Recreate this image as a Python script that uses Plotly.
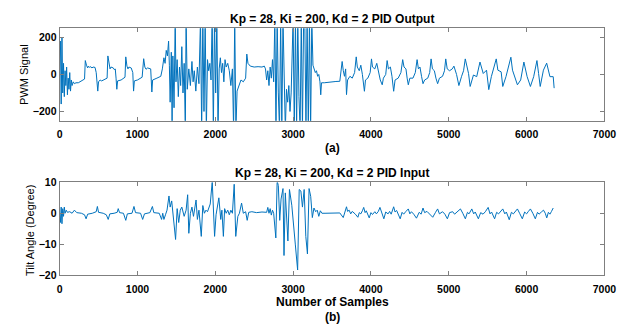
import plotly.graph_objects as go

# ---- PID output (PWM signal), (sample, value) ----
pwm_calm = [(0,150),(10,180),(20,-160),(30,200),(40,-100),(50,60),(60,-120),(70,20),(80,-60),
            (90,40),(100,-110),(110,-20),(120,-80),(130,10),(140,-90),(150,-30),(160,-60),(175,-40),
            (190,-50),(210,-45),(240,-45),(270,-35),(300,-30),(320,-25),(330,75),(345,50),(360,35),
            (370,45),(385,38),(400,42),(415,35),(430,40),(455,38),(470,10),(480,-35),(490,-90),
            (500,-40),(520,-30),(540,-35),(580,-25),(610,-20),(620,100),(635,50),(648,30),(660,40),
            (690,35),(705,25),(715,30),(725,-20),(735,-80),(745,-35),(790,-30),(840,-15),(850,95),
            (865,45),(878,30),(890,40),(920,35),(940,10),(950,-90),(960,-35),(1000,-30),(1060,-15),
            (1080,85),(1095,40),(1110,28),(1130,35),(1170,30),(1185,-95),(1195,-30),(1250,-20),
            (1300,-10),(1320,30),(1340,90),(1355,60),(1370,130),(1385,100),(1400,180)]
pwm_chaos1 = [(1410,50),(1420,-150),(1435,120),(1445,-260),(1455,100),(1470,-180),(1485,300),
              (1495,-40),(1510,80),(1525,-120),(1540,40),(1555,-60),(1570,150),(1585,-100),
              (1600,60),(1615,-300),(1625,300),(1640,-80),(1660,30),(1680,-60),(1700,70),
              (1715,-40),(1730,20),(1750,-90),(1770,40),(1790,-50),(1810,300),(1825,-300),
              (1840,300),(1855,-200),(1870,300),(1885,-300),(1900,80),(1915,20),(1930,60),
              (1945,-30),(1960,300),(1975,-300),(1990,300),(2005,-100),(2020,300),(2035,-300),
              (2050,30),(2065,90),(2080,10),(2095,60),(2110,-40),(2125,80),(2140,40),(2160,60),
              (2180,20),(2200,-60),(2220,30),(2235,-300),(2250,300),(2265,-300),(2280,-90),
              (2300,-60),(2330,-30),(2360,-40),(2390,-20)]
pwm_plateau = [(2405,110),(2420,60),(2450,45),(2500,40),(2550,42),(2600,40),(2630,45)]
pwm_chaos2 = [(2645,30),(2660,-30),(2675,20),(2690,-60),(2705,40),(2720,-20),(2735,80),(2750,-40),
              (2765,300),(2780,-300),(2795,300),(2810,-100),(2825,-300),(2840,300),(2855,-300),
              (2870,300),(2885,20),(2900,-300),(2915,-80),(2930,-150),(2945,-60),(2960,-200),
              (2975,-100),(3000,300),(3015,-300),(3030,300),(3045,-300),(3060,300),(3075,-120),
              (3090,-300),(3105,300),(3120,-300),(3135,300),(3150,300),(3165,-300),(3180,300),
              (3195,-300),(3210,300),(3225,-300),(3240,300),(3255,50),(3270,30),(3285,10)]
pwm_cycles = [(3300,20),(3315,-10),(3330,0),(3345,-40),(3355,-110),(3365,-45),(3400,-45),(3450,-42),
              (3500,-40),(3550,-38),(3600,-37),(3630,70),(3645,20),(3660,-10),(3675,30),(3686,-109),
              (3700,-30),(3730,-10),(3760,-20),(3790,10),(3811,95),(3825,40),(3850,20),(3870,50),
              (3890,0),(3916,-91),(3930,-30),(3960,-20),(3990,10),(4007,84),(4020,40),(4050,30),
              (4075,60),(4100,10),(4120,-30),(4145,-56),(4160,-20),(4190,0),(4208,75),(4225,30),
              (4250,40),(4270,-10),(4292,-91),(4310,-30),(4350,-20),(4385,10),(4408,80),(4425,40),
              (4450,30),(4465,-20),(4480,-56),(4500,-20),(4540,-20),(4570,10),(4593,80),(4610,30),
              (4630,40),(4650,-10),(4669,-50),(4690,-30),(4730,-20),(4755,10),(4773,84),(4790,30),
              (4815,20),(4835,-20),(4857,-50),(4880,-20),(4920,-10),(4945,20),(4961,84),(4980,30),
              (5010,20),(5045,30),(5066,45),(5100,0),(5130,-60),(5165,-10),(5190,20),(5212,84),
              (5254,5),(5275,-65),(5317,-3),(5359,-12),(5401,67),(5443,5),(5485,23),(5514,-82),
              (5547,-12),(5610,84),(5631,23),(5673,14),(5694,-65),(5735,-12),(5798,93),(5819,23),
              (5861,-39),(5882,-56),(5924,-30),(5965,67),(6007,-12),(6049,-65),(6091,-12),(6133,75),
              (6154,5),(6175,-65),(6216,23),(6258,61),(6300,-12),(6342,-12),(6354,-74)]

# ---- PID input (tilt angle, degree) ----
tilt_calm = [(0,0),(10,-3),(20,2),(30,-3.4),(40,1.5),(50,-1),(60,2),(70,0),(85,1),(100,0.3),(130,0.5),
             (160,0),(190,1),(220,0.2),(280,0),(320,-0.5),(340,-1.8),(360,-0.3),(420,0),(470,0.5),
             (485,2.2),(500,0.3),(560,0),(600,-0.5),(624,-2),(645,-0.2),(700,0),(740,0.3),(753,1.5),
             (770,0.2),(820,0),(850,-2.3),(870,-0.2),(930,0),(955,2.2),(975,0.2),(1040,0),(1067,-2),
             (1090,-0.2),(1160,0.2),(1192,2.2),(1210,0.2),(1280,0),(1310,-2),(1325,0),(1340,-2),
             (1360,-0.5),(1380,1)]
tilt_chaos1 = [(1405,5.6),(1420,2),(1440,4),(1460,-1),(1490,-8.5),(1510,1.5),(1530,-3),(1550,1),
               (1570,2),(1600,-1),(1625,1),(1645,6),(1660,-6.5),(1680,0),(1700,2),(1720,-1),
               (1753,4.3),(1770,-2),(1790,1),(1820,-7.5),(1840,2.5),(1860,0),(1880,1),(1900,0.5),
               (1935,3),(1961,10.3),(1991,-7.5),(2010,-0.5),(2046,5),(2070,-2),(2085,1),(2104,-7.5),
               (2120,1.5),(2140,0),(2160,1),(2180,-0.5),(2200,1),(2220,0),(2243,9.4),(2263,-7.5),
               (2290,-1),(2310,0),(2338,3.3),(2360,0),(2390,0.5),(2410,-2.3)]
tilt_plateau = [(2430,0.3),(2470,0.5),(2530,0.2),(2600,0.4),(2660,0.3),(2675,1.9),(2690,0),
                (2705,1.5),(2720,-0.6),(2735,1),(2750,0)]
tilt_chaos2 = [(2778,-8),(2795,10.5),(2810,9),(2828,-2.3),(2845,4.6),(2870,8),(2883,-13.7),(2900,6.6),
               (2933,-9),(2953,7.7),(2983,2.6),(3008,-3.6),(3028,-10),(3058,-18.4),(3078,7.7),
               (3100,7.2),(3120,2),(3142,7.7),(3163,-7.5),(3184,-13.2),(3205,8),(3226,5.5),
               (3247,-1.4),(3268,1.7),(3290,0.5),(3310,1),(3330,-1),(3350,0.8),(3370,0)]
tilt_cycles = [(3410,0),(3600,0.1),(3644,-1.4),(3665,0.5),(3686,2.1),(3700,0.6),(3720,1.0),(3740,-0.2),
               (3760,0.6),(3800,-0.3),(3832,-1.3),(3850,0.2),(3870,-0.2),(3890,0.8),(3907,1.9),
               (3925,0.2),(3940,0.8),(3978,-1.5),(4000,0.2),(4020,-0.4),(4050,0.5),(4070,-0.2),
               (4095,0.6),(4116,1.9),(4140,0),(4166,-1.8),(4190,0.4),(4220,-0.2),(4240,0.6),
               (4260,-0.3),(4292,2.1),(4310,0.4),(4330,0.9),(4350,-0.4),(4376,-1.8),(4400,0.3),
               (4420,-0.3),(4450,0.6),(4480,1.4),(4500,-0.2),(4520,0.5),(4550,-0.3),(4585,-1.6),
               (4620,0.3),(4645,-0.3),(4669,1.7),(4690,0.2),(4720,0.6),(4760,-0.4),(4794,-1.3),
               (4830,0.3),(4857,1.4),(4880,-0.2),(4920,0.5),(4950,-0.3),(4982,-1.8),(5010,0.2),
               (5050,0.5),(5075,-0.3),(5100,0.2),(5150,1.4),(5180,0),(5213,-1.8),(5240,0.3),
               (5260,-0.2),(5296,1.4),(5320,-0.2),(5340,0.4),(5380,-1.8),(5410,0.2),(5440,-0.3),
               (5470,0.5),(5506,1.9),(5530,-0.2),(5550,0.4),(5589,-1.8),(5615,0.3),(5640,-0.2),
               (5665,0.5),(5694,1.4),(5720,-0.2),(5740,0.4),(5777,-2.1),(5805,0.3),(5830,-0.2),
               (5855,0.5),(5882,1.4),(5910,0),(5945,-1.8),(5975,0.4),(6000,-0.2),(6020,0.5),
               (6049,1.4),(6080,0),(6112,-1.8),(6140,0.3),(6160,-0.3),(6190,0.4),(6217,1.0),
               (6240,0),(6259,-1.5),(6280,0.3),(6300,-0.3),(6320,0.6),(6342,1.7)]

x_ticks = [0, 1000, 2000, 3000, 4000, 5000, 6000, 7000]
pwm_ticks = [-200, 0, 200]
tilt_ticks = [-20, -10, 0, 10]
title_top = "Kp = 28, Ki = 200, Kd = 2 PID Output"
title_bottom = "Kp = 28, Ki = 200, Kd = 2 PID Input"


def unzip(*segments):
    xs, ys = [], []
    for seg in segments:
        for a, b in seg:
            xs.append(a)
            ys.append(b)
    return xs, ys


pwm_x, pwm_y = unzip(pwm_calm, pwm_chaos1, pwm_plateau, pwm_chaos2, pwm_cycles)
tilt_x, tilt_y = unzip(tilt_calm, tilt_chaos1, tilt_plateau, tilt_chaos2, tilt_cycles)

LINE = "#0072BD"
AX = "#7f7f7f"
FONT = "Liberation Sans, Arial, sans-serif"
W, H = 634, 333

fig = go.Figure()
fig.add_trace(go.Scatter(x=pwm_x, y=pwm_y, mode="lines", line=dict(color=LINE, width=1),
                         xaxis="x", yaxis="y", showlegend=False))
fig.add_trace(go.Scatter(x=tilt_x, y=tilt_y, mode="lines", line=dict(color=LINE, width=1),
                         xaxis="x2", yaxis="y2", showlegend=False))

xdom = [58 / W, 616 / W]
common_x = dict(range=[0, 7000], tickvals=x_ticks, ticks="inside", ticklen=4, tickcolor=AX,
                showline=True, linecolor=AX, linewidth=1, mirror="ticks", showgrid=False,
                zeroline=False, tickfont=dict(family=FONT, size=10.5, color="black", weight="bold"),
                ticklabelstandoff=4, domain=xdom)
common_y = dict(ticks="inside", ticklen=4, tickcolor=AX, showline=True, linecolor=AX, linewidth=1,
                mirror="ticks", showgrid=False, zeroline=False,
                tickfont=dict(family=FONT, size=10.5, color="black", weight="bold"))

fig.update_layout(
    width=W, height=H, margin=dict(l=0, r=0, t=0, b=0),
    paper_bgcolor="white", plot_bgcolor="white",
    xaxis=dict(**common_x, anchor="y"),
    yaxis=dict(**common_y, range=[-250, 250], tickvals=pwm_ticks,
               domain=[1 - 119 / H, 1 - 23 / H], anchor="x"),
    xaxis2=dict(**common_x, anchor="y2"),
    yaxis2=dict(**common_y, range=[-20, 10], tickvals=tilt_ticks,
                domain=[1 - 279 / H, 1 - 183 / H], anchor="x2"),
)

xc = 337 / W
bold = dict(family=FONT, size=12, color="black", weight="bold")
reg = dict(family=FONT, size=11, color="black")
ann = [
    dict(text=title_top, x=xc, y=1 - 13 / H, font=bold),
    dict(text=title_bottom, x=xc, y=1 - 173 / H, font=bold),
    dict(text="(a)", x=xc, y=1 - 147 / H, font=bold),
    dict(text="Number of Samples", x=xc, y=1 - 307 / H, font=bold),
    dict(text="(b)", x=xc, y=1 - 323 / H, font=bold),
    dict(text="PWM Signal", x=22 / W, y=1 - 71 / H, font=reg, textangle=-90),
    dict(text="Tilt Angle (Degree)", x=27 / W, y=1 - 233 / H, font=reg, textangle=-90),
]
for a in ann:
    fig.add_annotation(xref="paper", yref="paper", showarrow=False, xanchor="center",
                       yanchor="middle", **a)

fig.write_html("out.html")
